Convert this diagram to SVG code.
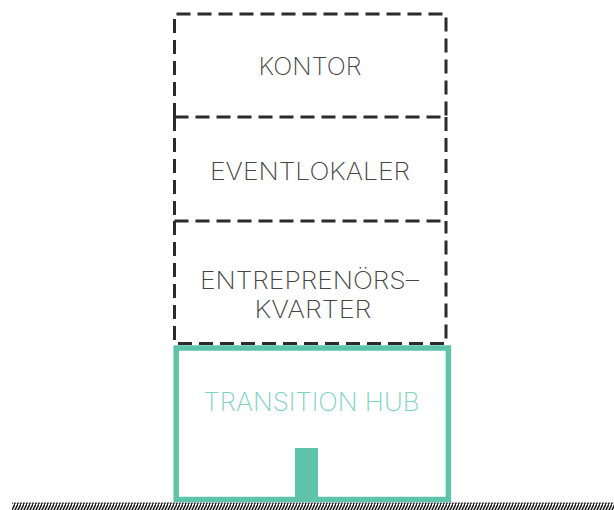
<svg xmlns="http://www.w3.org/2000/svg" width="614" height="510" viewBox="0 0 614 510">
<style>
.dash{fill:none;stroke:#2b2b2b;stroke-width:3;stroke-dasharray:14 7}
.lbl{font-family:Inter,Lato,"Open Sans","Liberation Sans",sans-serif;font-weight:200;font-size:24px;fill:#444;text-anchor:middle}
.hub{fill:#7dd3bd}
</style>
<defs>
<pattern id="hatch" width="3" height="7" patternUnits="userSpaceOnUse">
<rect width="3" height="7" fill="#fff"/>
<path d="M-1,8 L3.5,-1 M2,8 L6.5,-1" stroke="#222" stroke-width="1.6"/>
</pattern>
</defs>
<g id="ground"><rect x="12" y="502.5" width="602" height="7.5" fill="url(#hatch)"/></g>
<g id="connectors"></g>
<g id="kontor">
<path class="dash" d="M174.5,117 V14 H446 V117"/>
<text class="lbl" x="310" y="75" textLength="103" lengthAdjust="spacingAndGlyphs">KONTOR</text>
</g>
<g id="eventlokaler">
<path class="dash" d="M174.5,117 H446"/>
<path class="dash" d="M174.5,117 V221 M446,117 V221"/>
<text class="lbl" x="310" y="180" textLength="200" lengthAdjust="spacingAndGlyphs">EVENTLOKALER</text>
</g>
<g id="entreprenorskvarter">
<path class="dash" d="M174.5,221 H446"/>
<path class="dash" d="M174.5,221 V343.5 H446 V221"/>
<text class="lbl" x="309.5" y="289" textLength="219" lengthAdjust="spacingAndGlyphs">ENTREPRENÖRS–</text>
<text class="lbl" x="313" y="318" textLength="117" lengthAdjust="spacingAndGlyphs">KVARTER</text>
</g>
<g id="transition-hub">
<rect x="176.2" y="348" width="272.2" height="151.5" fill="none" stroke="#5dc3a9" stroke-width="5.5"/>
<rect x="295" y="448" width="23" height="52" fill="#5dc3a9"/>
<text class="lbl hub" x="311.5" y="411" textLength="216" lengthAdjust="spacingAndGlyphs" style="font-size:26px">TRANSITION HUB</text>
</g>
</svg>
